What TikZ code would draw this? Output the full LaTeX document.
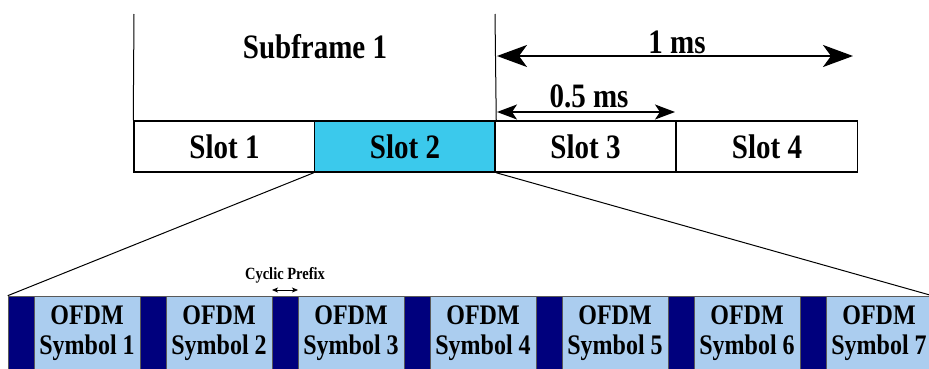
\documentclass[tikz,border=0pt]{standalone}
\usepackage{graphicx}
\usepackage{fontspec}
\setmainfont{Liberation Serif}
\usetikzlibrary{arrows.meta}
\definecolor{slotcyan}{RGB}{59,201,236}
\definecolor{cpnavy}{RGB}{0,0,125}
\definecolor{symblue}{RGB}{171,205,239}
\newcommand{\tallbf}[1]{\scalebox{1}[1.18]{#1}}
\newcommand{\symtext}[1]{\tallbf{OFDM}\\\tallbf{Symbol #1}}

\begin{document}
\begin{tikzpicture}[x=1pt,y=1pt,
    slot/.style={draw=black,line width=1.5pt,fill=white,minimum width=181pt,minimum height=51pt,inner sep=0pt,font=\fontsize{29}{31}\selectfont\bfseries},
    cp/.style={draw=gray!70!black,line width=0.6pt,fill=cpnavy,minimum width=26pt,minimum height=74pt,inner sep=0pt},
    sym/.style={draw=gray!70!black,line width=0.6pt,fill=symblue,minimum width=106pt,minimum height=74pt,inner sep=0pt,align=center,font=\fontsize{24}{30}\selectfont\bfseries},
    lbl/.style={inner sep=0pt,font=\fontsize{29}{31}\selectfont\bfseries},
    big/.style={line width=2pt,{Stealth[length=30pt,width=22pt,inset=8pt]}-{Stealth[length=30pt,width=22pt,inset=8pt]}},
    small/.style={line width=1.4pt,{Stealth[length=20pt,width=15pt,inset=5pt]}-{Stealth[length=20pt,width=15pt,inset=5pt]}},
    tiny/.style={line width=0.8pt,{Stealth[length=6pt,width=5pt,inset=1.5pt]}-{Stealth[length=6pt,width=5pt,inset=1.5pt]}}]
        \useasboundingbox (0,0) rectangle (929,368);
        \clip (0,0) rectangle (929,368);
        \coordinate (t1) at (134,354);
        \coordinate (t2) at (495,354);
        \coordinate (a1) at (497,312);
        \coordinate (a2) at (853,312);
        \coordinate (b1) at (497,256);
        \coordinate (b2) at (675,256);
        \coordinate (c1) at (272,78);
        \coordinate (c2) at (298,78);
        % slots of the subframe
        \node[slot] (s1) at (224.5,221.5) {\tallbf{Slot 1}};
        \node[slot,fill=slotcyan] (s2) at (405,221.5) {\tallbf{Slot 2}};
        \node[slot] (s3) at (585.5,221.5) {\tallbf{Slot 3}};
        \node[slot] (s4) at (767,221.5) {\tallbf{Slot 4}};
        \draw[line width=1pt] (s1.north west) -- (t1);
        \draw[line width=1pt] (s2.north east) -- (t2);
        \node[lbl] (sub) at (315,321) {\tallbf{Subframe 1}};
        \draw[big] (a1) -- (a2);
        \node[lbl] (onems) at (677,325.5) {\tallbf{1 ms}};
        \draw[small] (b1) -- (b2);
        \node[lbl] (halfms) at (589,271.5) {\tallbf{0.5 ms}};
        % ofdm symbols of slot 2
        \node[cp] (cp1) at (21,35) {};
        \node[sym] (sym1) at (87,35) {\symtext{1}};
        \node[cp] (cp2) at (153,35) {};
        \node[sym] (sym2) at (219,35) {\symtext{2}};
        \node[cp] (cp3) at (285,35) {};
        \node[sym] (sym3) at (351,35) {\symtext{3}};
        \node[cp] (cp4) at (417,35) {};
        \node[sym] (sym4) at (483,35) {\symtext{4}};
        \node[cp] (cp5) at (549,35) {};
        \node[sym] (sym5) at (615,35) {\symtext{5}};
        \node[cp] (cp6) at (681,35) {};
        \node[sym] (sym6) at (747,35) {\symtext{6}};
        \node[cp] (cp7) at (813,35) {};
        \node[sym] (sym7) at (879,35) {\symtext{7}};
        \draw[line width=1pt] (s2.south west) -- (cp1.north west);
        \draw[line width=1pt] (s2.south east) -- (sym7.north east);
        \draw[tiny] (c1) -- (c2);
        \node[inner sep=0pt,font=\fontsize{14.5}{16}\selectfont\bfseries] (cpl) at (285,93) {\tallbf{Cyclic Prefix}};
\end{tikzpicture}
\end{document}
